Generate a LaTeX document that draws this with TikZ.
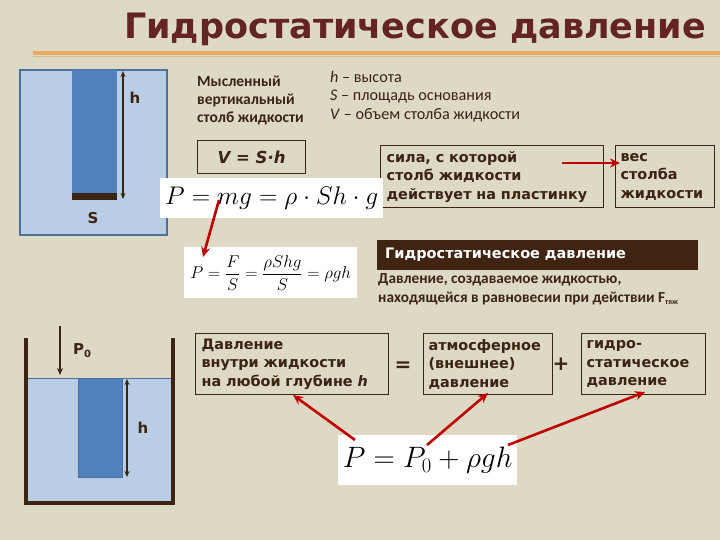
\RequirePackage{fix-cm}
\documentclass[tikz,border=0pt]{standalone}
\usepackage{fontspec}
\setmainfont{DejaVu Sans}
\newfontfamily\calfont{Carlito}
\usetikzlibrary{arrows.meta}
\definecolor{bg}{HTML}{DDD9C4}
\definecolor{titlec}{HTML}{632423}
\definecolor{tc}{HTML}{3B2411}
\definecolor{banc}{HTML}{3F2412}
\definecolor{lblue}{HTML}{B9CDE5}
\definecolor{mblue}{HTML}{4F81BD}
\definecolor{bordb}{HTML}{4F6FA0}
\definecolor{arr}{HTML}{C00000}
\definecolor{orng}{HTML}{E8A862}
\definecolor{orng2}{HTML}{D8BC90}
\begin{document}
\begin{tikzpicture}[x=1pt,y=-1pt,
  txt/.style={text=tc, align=left, inner sep=0pt},
  boxtxt/.style={font=\fontsize{14.4}{18.5}\selectfont\bfseries},
  calb/.style={font=\calfont\fontsize{15.5}{18}\selectfont\bfseries},
  vbox/.style={draw=tc, line width=1.2pt, text=tc, align=left, inner ysep=0pt, anchor=north west},
  wbox/.style={fill=white, inner sep=0pt, anchor=north west},
  redarr/.style={draw=arr, line width=2.6pt, -{Stealth[length=10pt,width=9pt]}},
  dimarr/.style={draw=tc, line width=1.3pt, {Stealth[length=6pt,width=5pt]}-{Stealth[length=6pt,width=5pt]}},
  lbl/.style={text=tc, inner sep=0pt, font=\fontsize{15}{15}\selectfont\bfseries}]
\fill[bg] (0,0) rectangle (720,540);
\useasboundingbox (0,0) rectangle (720,540);

% title
\node[text=titlec, inner sep=0pt, font=\fontsize{35}{35}\selectfont\bfseries] (title) at (415,29) {Гидростатическое давление};
\draw[orng, line width=4pt] (33,53) -- (720,53);
\draw[orng2, line width=1.2pt] (33,56.5) -- (720,56.5);

% top-left diagram
\filldraw[fill=lblue, draw=bordb, line width=1.2pt] (20,70) rectangle (167,235);
\fill[mblue] (72,70) rectangle (117,193);
\fill[tc] (72,193) rectangle (117,200);
\coordinate (ht) at (123,71);
\coordinate (hb) at (123,199);
\draw[dimarr] (ht) -- (hb);
\node[lbl] (hlab) at (135,98) {h};
\node[lbl] (slab) at (93,218) {S};

% texts top
\node[txt, calb, anchor=north west] (mysl) at (197,76) {Мысленный\\вертикальный\\столб жидкости};
\node[txt, font=\calfont\fontsize{16.2}{18.5}\selectfont, anchor=north west] (legend) at (330,71)
  {\textit{h} – высота\\\textit{S} – площадь основания\\\textit{V} – объем столба жидкости};

\node[vbox, minimum width=108pt, minimum height=33pt, anchor=north west, align=center, font=\fontsize{16.5}{16.5}\selectfont\bfseries\itshape] (vsh) at (197,140) {V = S·h};

\node[vbox, boxtxt, minimum width=223pt, minimum height=62pt, text width=211pt, inner xsep=6pt] (sila) at (380,145) {сила, с которой\\столб жидкости\\действует на пластинку};
\node[vbox, boxtxt, minimum width=99pt, minimum height=62pt, text width=89pt, inner xsep=5pt] (ves) at (615,145) {вес\\столба\\жидкости};
\coordinate (sa) at (562,163);
\coordinate (sb) at (620,163);
\draw[redarr] (sa) -- (sb);

% formulas
\node[wbox, minimum width=223pt, minimum height=40pt] (f1) at (160,178) {\fontsize{25.5}{25.5}\selectfont$P = mg = \rho\cdot Sh\cdot g$};
\node[wbox, minimum width=173pt, minimum height=51pt] (f2) at (184,247) {\fontsize{17}{17}\selectfont$\displaystyle P = \frac{F}{S} = \frac{\rho Shg}{S} = \rho gh$};
\coordinate (m1) at (219,200);
\coordinate (m2) at (203,257);
\draw[redarr] (m1) -- (m2);

% banner
\node[fill=banc, anchor=north west, minimum width=321pt, minimum height=30pt, text width=305pt, inner xsep=8pt, text=white, align=left, font=\fontsize{14.5}{14.5}\selectfont\bfseries] (banner) at (377,240) {Гидростатическое давление};
\node[txt, font=\calfont\fontsize{15.3}{19}\selectfont\bfseries, anchor=north west] (desc) at (378,273)
  {Давление, создаваемое жидкостью,\\находящейся в равновесии при действии F\raisebox{-2pt}{\fontsize{8}{8}\selectfont тяж}};

% bottom-left container
\fill[lblue] (27,378) rectangle (172,501);
\draw[bordb, line width=1pt] (27,378) -- (172,378);
\filldraw[fill=mblue, draw=bordb, line width=0.6pt] (78,378) rectangle (122,477);
\draw[tc, line width=4pt] (26,338) -- (26,503) -- (173,503) -- (173,338);
\coordinate (h2t) at (127,379);
\coordinate (h2b) at (127,477);
\draw[dimarr] (h2t) -- (h2b);
\node[lbl] (hlab2) at (143,428) {h};
\coordinate (p0a) at (60,326);
\coordinate (p0b) at (60,375);
\draw[draw=tc, line width=1.5pt, -{Stealth[length=7pt,width=6pt]}] (p0a) -- (p0b);
\node[lbl, anchor=west] (p0lab) at (73,351) {P\raisebox{-3pt}{\fontsize{10}{10}\selectfont 0}};

% bottom boxes
\node[vbox, boxtxt, minimum width=193pt, minimum height=61pt, text width=181pt, inner xsep=6pt] (vnutri) at (195,333) {Давление\\внутри жидкости\\на любой глубине \textit{h}};
\node[text=tc, inner sep=0pt, font=\fontsize{20}{20}\selectfont\bfseries] (eq) at (403,367) {=};
\node[vbox, boxtxt, minimum width=129pt, minimum height=61pt, text width=119pt, inner xsep=5pt] (atm) at (423,333) {атмосферное\\(внешнее)\\давление};
\node[text=tc, inner sep=0pt, font=\fontsize{20}{20}\selectfont\bfseries] (plus) at (561,364) {+};
\node[vbox, boxtxt, minimum width=124pt, minimum height=61pt, text width=114pt, inner xsep=5pt] (gidro) at (581,333) {гидро-\\статическое\\давление};

\node[wbox, minimum width=179pt, minimum height=50pt] (f3) at (338,435) {\fontsize{29.5}{29.5}\selectfont$P = P_0 + \rho gh$};

\coordinate (b1) at (355,440);
\coordinate (b1e) at (293,395);
\coordinate (b2) at (427,445);
\coordinate (b2e) at (488,393);
\coordinate (b3) at (508,445);
\coordinate (b3e) at (645,392);
\draw[redarr] (b1) -- (b1e);
\draw[redarr] (b2) -- (b2e);
\draw[redarr] (b3) -- (b3e);
\end{tikzpicture}
\end{document}
